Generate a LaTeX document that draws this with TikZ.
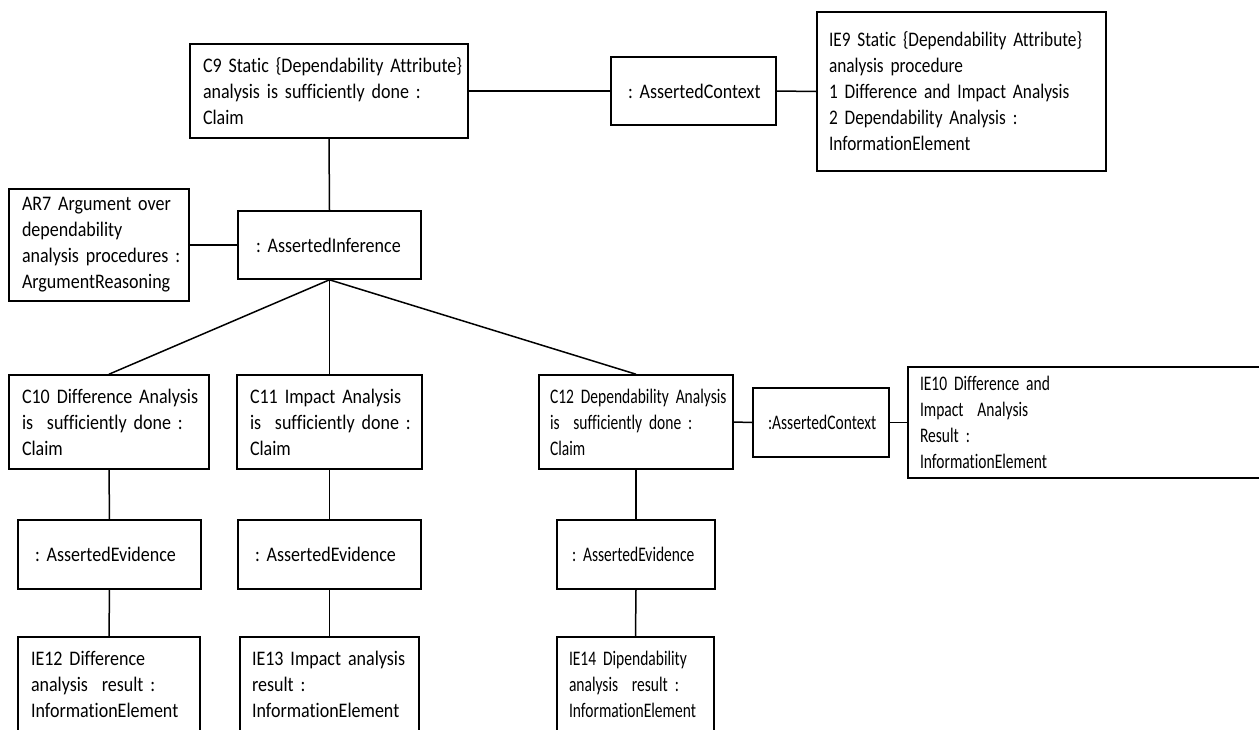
\documentclass[tikz,border=0pt]{standalone}
\usepackage{fontspec}
% the face is set tall and narrow; two further condensed cuts
\defaultfontfeatures{Ligatures=NoCommon}
\setmainfont{Carlito}[FakeStretch=0.87]
\newfontfamily\slimfont{Carlito}[FakeStretch=0.835]
\newfontfamily\narrowfont{Carlito}[FakeStretch=0.75]
\newcommand{\boxtext}{\fontsize{20.7}{26}\selectfont\spaceskip=4pt\relax}
\newcommand{\slimtext}{\slimfont\fontsize{20.7}{26}\selectfont\spaceskip=3.8pt\relax}
\newcommand{\narrowtext}{\narrowfont\fontsize{20.7}{26}\selectfont\spaceskip=3.5pt\relax}
\begin{document}
\frenchspacing
\begin{tikzpicture}[x=1pt,y=-1pt,
  box/.style={draw=black, line width=1.6pt, rectangle, inner ysep=0pt,
    align=left, font=\boxtext},
  slim/.style={font=\slimtext},
  narrow/.style={font=\narrowtext},
  link/.style={draw=black, line width=1.5pt}]
\useasboundingbox (0,0) rectangle (1259,729);
\fill[white] (0,0) rectangle (1259,729);
\clip (0,0) rectangle (1259,729);

% top row: claim, its context and the context's information element
\node[box, text width=252, inner xsep=13, minimum height=94] (c9) at (329,91)
  {\mbox{C9 Static \{Dependability Attribute\}}\\\mbox{analysis is sufficiently done :}\\Claim};
\node[box, text width=131, inner xsep=17, minimum height=68] (ac1) at (693.5,91)
  {\mbox{: AssertedContext}};
\node[box, slim, text width=265, inner xsep=12, minimum height=159] (ie9) at (961.5,91.5)
  {\mbox{IE9 Static \{Dependability Attribute\}}\\analysis procedure\\\mbox{1 Difference and Impact Analysis}\\\mbox{2 Dependability Analysis :}\\InformationElement};

% inference and its reasoning
\node[box, text width=154, inner xsep=13, minimum height=112] (ar7) at (99,245)
  {\mbox{AR7 Argument over}\\dependability\\\mbox{analysis procedures :}\\ArgumentReasoning};
\node[box, text width=147, inner xsep=18, minimum height=68] (ai) at (329.5,245)
  {\mbox{: AssertedInference}};

% sub-claims
\node[box, text width=174, inner xsep=13, minimum height=94] (c10) at (109,422)
  {\mbox{C10 Difference Analysis}\\\mbox{is\ \ sufficiently done :}\\Claim};
\node[box, text width=159, inner xsep=13, minimum height=94] (c11) at (329.5,422)
  {\mbox{C11 Impact Analysis}\\\mbox{is\ \ sufficiently done :}\\Claim};
\node[box, narrow, text width=172, inner xsep=11, minimum height=94] (c12) at (636,422)
  {\mbox{C12 Dependability Analysis}\\\mbox{is\ \ sufficiently done :}\\Claim};
\node[box, narrow, text width=106, inner xsep=15, minimum height=69] (ac2) at (821,422.5)
  {\mbox{:AssertedContext}};
\node[box, narrow, text width=338, inner xsep=12, minimum height=111] (ie10) at (1089,422.5)
  {\mbox{IE10 Difference and}\\\mbox{Impact\ \ Analysis}\\Result :\\InformationElement};

% evidence links
\node[box, text width=149, inner xsep=17, minimum height=69] (ae1) at (109.5,554.5)
  {\mbox{: AssertedEvidence}};
\node[box, text width=149, inner xsep=17, minimum height=69] (ae2) at (329.5,554.5)
  {\mbox{: AssertedEvidence}};
\node[box, narrow, text width=128, inner xsep=15, minimum height=69] (ae3) at (636,554.5)
  {\mbox{: AssertedEvidence}};

% evidence information elements
\node[box, text width=156, inner xsep=13, minimum height=94] (ie12) at (109,684)
  {\mbox{IE12 Difference}\\\mbox{analysis\ \ result :}\\InformationElement};
\node[box, text width=155, inner xsep=12, minimum height=94] (ie13) at (329.5,684)
  {\mbox{IE13 Impact analysis}\\result :\\InformationElement};
\node[box, narrow, text width=133, inner xsep=12, minimum height=94] (ie14) at (635.5,684)
  {\mbox{IE14 Dipendability}\\\mbox{analysis\ \ result :}\\InformationElement};

% connectors
\draw[link] (c9.east) -- (ac1.west);
\draw[link] (ac1.east) -- (ie9.west);
\draw[link] (c9.south) -- (ai.north);
\draw[link] (ar7.east) -- (ai.west);
\draw[link] (ai.south) -- (c10.north);
\draw[link] (ai.south) -- (c11.north);
\draw[link] (ai.south) -- (c12.north);
\draw[link] (c12.east) -- (ac2.west);
\draw[link] (ac2.east) -- (ie10.west);
\draw[link] (c10.south) -- (ae1.north);
\draw[link] (ae1.south) -- (ie12.north);
\draw[link] (c11.south) -- (ae2.north);
\draw[link] (ae2.south) -- (ie13.north);
\draw[link] (c12.south) -- (ae3.north);
\draw[link] (ae3.south) -- (ie14.north);
\end{tikzpicture}
\end{document}
